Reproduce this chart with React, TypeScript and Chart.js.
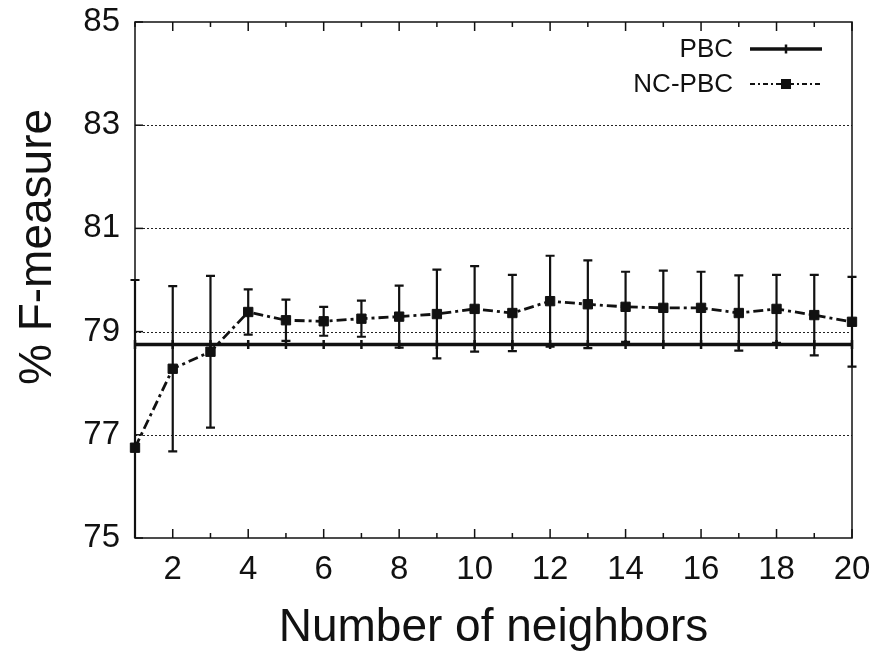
import React, { useEffect, useRef } from "react";
import { Chart, registerables } from "chart.js";

Chart.register(...registerables);

// ---------- data ----------
const neighbors = [1, 2, 3, 4, 5, 6, 7, 8, 9, 10, 11, 12, 13, 14, 15, 16, 17, 18, 19, 20];
const pbcValues = [78.75, 78.75, 78.75, 78.75, 78.75, 78.75, 78.75, 78.75, 78.75, 78.75, 78.75, 78.75, 78.75, 78.75, 78.75, 78.75, 78.75, 78.75, 78.75, 78.75];
const ncPbcValues = [76.75, 78.28, 78.61, 79.38, 79.22, 79.2, 79.25, 79.29, 79.34, 79.44, 79.36, 79.59, 79.53, 79.48, 79.46, 79.46, 79.36, 79.44, 79.32, 79.19];
const ncPbcErrors = [3.25, 1.6, 1.47, 0.44, 0.4, 0.28, 0.35, 0.6, 0.86, 0.83, 0.74, 0.88, 0.85, 0.68, 0.72, 0.7, 0.73, 0.66, 0.78, 0.87];
const yTickValues = [75, 77, 79, 81, 83, 85];
const xTickLabels = [2, 4, 6, 8, 10, 12, 14, 16, 18, 20];
const seriesNames = ["PBC", "NC-PBC"];
const xTitle = "Number of neighbors";
const yTitle = "% F-measure";

const FONT = '"Liberation Sans", Arial, Helvetica, sans-serif';
const DASH_DOT = [10, 4, 3, 4];

const decorPlugin = {
  id: "decor",
  beforeDatasetsDraw(chart: any) {
    const { ctx, chartArea: a, scales } = chart;
    const x = scales.x;
    const y = scales.y;
    ctx.save();
    // dotted grid lines (inner ticks only)
    ctx.strokeStyle = "#222";
    ctx.lineWidth = 1;
    ctx.setLineDash([2, 2]);
    yTickValues.forEach((v) => {
      if (v === y.min || v === y.max) return;
      const py = Math.round(y.getPixelForValue(v)) + 0.5;
      ctx.beginPath();
      ctx.moveTo(a.left, py);
      ctx.lineTo(a.right, py);
      ctx.stroke();
    });
    ctx.setLineDash([]);
    // error bars for NC-PBC
    ctx.strokeStyle = "#111";
    ctx.lineWidth = 2.2;
    neighbors.forEach((n, i) => {
      const px = x.getPixelForValue(n);
      const hi = ncPbcValues[i] + ncPbcErrors[i];
      const lo = ncPbcValues[i] - ncPbcErrors[i];
      const yTop = Math.max(a.top, y.getPixelForValue(hi));
      const yBot = Math.min(a.bottom, y.getPixelForValue(lo));
      ctx.beginPath();
      ctx.moveTo(px, yTop);
      ctx.lineTo(px, yBot);
      if (hi <= y.max) {
        const p = y.getPixelForValue(hi);
        ctx.moveTo(px - 4.5, p);
        ctx.lineTo(px + 4.5, p);
      }
      if (lo >= y.min) {
        const p = y.getPixelForValue(lo);
        ctx.moveTo(px - 4.5, p);
        ctx.lineTo(px + 4.5, p);
      }
      ctx.stroke();
    });
    ctx.restore();
  },
  afterDraw(chart: any) {
    const { ctx, chartArea: a, scales } = chart;
    const x = scales.x;
    const y = scales.y;
    ctx.save();
    ctx.strokeStyle = "#111";
    ctx.fillStyle = "#111";
    // frame
    ctx.lineWidth = 1.5;
    ctx.strokeRect(a.left, a.top, a.width, a.height);
    // x ticks (inward, mirrored on top)
    ctx.lineWidth = 1.5;
    neighbors.forEach((n) => {
      const px = x.getPixelForValue(n);
      const len = n % 2 === 0 ? 9 : 5;
      ctx.beginPath();
      ctx.moveTo(px, a.bottom);
      ctx.lineTo(px, a.bottom - len);
      ctx.moveTo(px, a.top);
      ctx.lineTo(px, a.top + len);
      ctx.stroke();
    });
    // y ticks (left, inward)
    yTickValues.forEach((v) => {
      const py = y.getPixelForValue(v);
      ctx.beginPath();
      ctx.moveTo(a.left, py);
      ctx.lineTo(a.left + 8, py);
      ctx.stroke();
    });

    // legend
    const textRight = a.right - 119;
    const sx0 = a.right - 102;
    const sx1 = a.right - 30;
    const mx = (sx0 + sx1) / 2;
    const ly1 = a.top + 27;
    const ly2 = a.top + 62;
    ctx.font = `26px ${FONT}`;
    ctx.textAlign = "right";
    ctx.textBaseline = "middle";
    ctx.fillStyle = "#111";
    ctx.fillText(seriesNames[0], textRight, ly1 + 1);
    ctx.fillText(seriesNames[1], textRight, ly2 + 1);
    ctx.lineWidth = 3.5;
    ctx.beginPath();
    ctx.moveTo(sx0, ly1);
    ctx.lineTo(sx1, ly1);
    ctx.stroke();
    ctx.lineWidth = 2.5;
    ctx.beginPath();
    ctx.moveTo(mx, ly1 - 4.5);
    ctx.lineTo(mx, ly1 + 4.5);
    ctx.stroke();
    ctx.lineWidth = 2;
    ctx.setLineDash([5, 3, 2, 3]);
    ctx.beginPath();
    ctx.moveTo(sx0, ly2);
    ctx.lineTo(sx1, ly2);
    ctx.stroke();
    ctx.setLineDash([]);
    ctx.fillRect(mx - 5, ly2 - 5, 10, 10);

    // axis titles
    ctx.font = `46px ${FONT}`;
    ctx.textAlign = "center";
    ctx.textBaseline = "alphabetic";
    ctx.fillText(xTitle, (a.left + a.right) / 2, 641);
    ctx.save();
    ctx.translate(51, 247);
    ctx.rotate(-Math.PI / 2);
    ctx.fillText(yTitle, 0, 0);
    ctx.restore();
    ctx.restore();
  },
};

export default function App() {
  const ref = useRef<HTMLCanvasElement>(null);
  useEffect(() => {
    document.body.style.margin = "0";
    const canvas = ref.current!;
    const chart = new Chart(canvas, {
      type: "line",
      data: {
        labels: neighbors,
        datasets: [
          {
            label: seriesNames[0],
            data: neighbors.map((n, i) => ({ x: n, y: pbcValues[i] })),
            borderColor: "#111",
            backgroundColor: "#111",
            borderWidth: 3.5,
            pointStyle: "line",
            pointRotation: 90,
            pointRadius: 4.5,
            pointBorderWidth: 2.5,
            pointBorderColor: "#111",
            tension: 0,
            clip: 10,
            order: 1,
          },
          {
            label: seriesNames[1],
            data: neighbors.map((n, i) => ({ x: n, y: ncPbcValues[i] })),
            borderColor: "#111",
            backgroundColor: "#111",
            borderWidth: 2.8,
            borderDash: DASH_DOT,
            pointStyle: "rect",
            pointRadius: 6.6,
            pointBorderWidth: 1,
            pointBackgroundColor: "#111",
            pointBorderColor: "#111",
            tension: 0,
            clip: 10,
            order: 0,
          },
        ],
      },
      options: {
        responsive: false,
        animation: false,
        devicePixelRatio: 1,
        layout: { padding: { top: 22, right: 21, left: 0, bottom: 0 } },
        plugins: {
          legend: { display: false },
          tooltip: { enabled: false },
        },
        scales: {
          x: {
            type: "linear",
            min: 1,
            max: 20,
            afterFit: (s: any) => {
              s.height = 114;
              s.paddingLeft = 0;
              s.paddingRight = 0;
            },
            grid: { display: false, drawTicks: false },
            border: { display: false },
            ticks: {
              stepSize: 1,
              autoSkip: false,
              maxRotation: 0,
              padding: 12,
              color: "#111",
              font: { family: FONT, size: 33 },
              callback: (v: any) => (xTickLabels.includes(Number(v)) ? String(v) : ""),
            },
          },
          y: {
            type: "linear",
            min: 75,
            max: 85,
            afterFit: (s: any) => {
              s.width = 135;
              s.paddingTop = 0;
              s.paddingBottom = 0;
            },
            grid: { display: false, drawTicks: false },
            border: { display: false },
            ticks: {
              stepSize: 2,
              padding: 15,
              color: "#111",
              font: { family: FONT, size: 33 },
              callback: (v: any) => (yTickValues.includes(Number(v)) ? String(v) : ""),
            },
          },
        },
      },
      plugins: [decorPlugin],
    } as any);
    return () => chart.destroy();
  }, []);
  return (
    <div style={{ width: 873, height: 652 }}>
      <canvas ref={ref} width={873} height={652} style={{ display: "block" }} />
    </div>
  );
}
